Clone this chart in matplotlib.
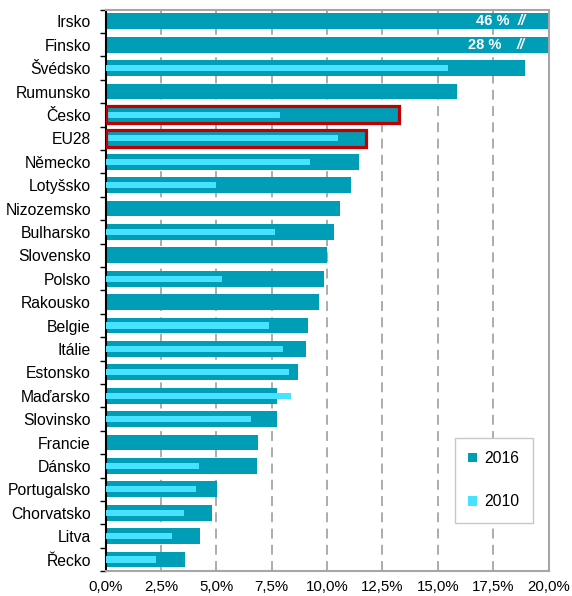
import numpy as np
import matplotlib
matplotlib.use("Agg")
import matplotlib.pyplot as plt
from matplotlib.patches import Patch

plt.rcParams['font.family'] = ['Liberation Sans', 'DejaVu Sans']

categories = ["Irsko", "Finsko", "Švédsko", "Rumunsko", "Česko", "EU28", "Německo",
              "Lotyšsko", "Nizozemsko", "Bulharsko", "Slovensko", "Polsko", "Rakousko",
              "Belgie", "Itálie", "Estonsko", "Maďarsko", "Slovinsko", "Francie",
              "Dánsko", "Portugalsko", "Chorvatsko", "Litva", "Řecko"]
values_2016 = [46.0, 28.0, 18.95, 15.85, 13.25, 11.75, 11.45, 11.1, 10.6, 10.3, 9.98,
               9.86, 9.65, 9.15, 9.05, 8.7, 7.76, 7.73, 6.9, 6.84, 5.05, 4.79, 4.28, 3.58]
values_2010 = [np.nan, np.nan, 15.45, np.nan, 7.9, 10.5, 9.25, 5.0, np.nan, 7.65, np.nan,
               5.27, np.nan, 7.4, 8.02, 8.27, 8.37, 6.58, np.nan, 4.2, 4.08, 3.56, 3.0, 2.28]
highlighted = ["Česko", "EU28"]
clipped_labels = {"Irsko": (17.5, 18.78), "Finsko": (17.1, 18.76)}
xticks = [0, 2.5, 5, 7.5, 10, 12.5, 15, 17.5, 20]
xtick_labels = ["0,0%", "2,5%", "5,0%", "7,5%", "10,0%", "12,5%", "15,0%", "17,5%", "20,0%"]
series_names = ["2016", "2010"]

dark = "#009DB6"
light = "#46E2FF"
red = "#C00000"
gray = "#A6A6A6"

W, H = 572, 596
fig = plt.figure(figsize=(W / 100, H / 100), dpi=100)
left, right, top, bottom = 105.5, 548.5, 9.6, 571.2
ax = fig.add_axes([left / W, 1 - bottom / H, (right - left) / W, (bottom - top) / H])

y = np.arange(len(categories))
ax.barh(y, values_2016, height=0.68, color=dark, zorder=2)
ax.barh(y, values_2010, height=0.27, color=light, zorder=3)

for name in highlighted:
    i = categories.index(name)
    ax.barh(y[i], values_2016[i], height=0.72, fill=False, edgecolor=red,
            linewidth=2.3, zorder=4)

for name, (xt, xs) in clipped_labels.items():
    i = categories.index(name)
    ax.text(xt, y[i], f"{values_2016[i]:.0f} %", color="white", fontweight="bold",
            fontsize=10.5, ha="center", va="center", zorder=5)
    ax.text(xs, y[i], "//", color="white", fontweight="bold", fontstyle="italic",
            fontsize=10.5, ha="center", va="center", zorder=5)

ax.set_xlim(0, 20)
ax.set_ylim(len(categories) - 0.5, -0.5)
ax.set_xticks(xticks)
ax.set_xticklabels(xtick_labels, fontsize=10.8)
ax.set_yticks(y)
ax.set_yticklabels(categories, fontsize=11.3)
ax.set_yticks(np.arange(-0.5, len(categories), 1), minor=True)
ax.tick_params(axis="y", which="major", length=0, pad=10.5)
ax.tick_params(axis="y", which="minor", length=4, width=1, color="black")
ax.tick_params(axis="x", length=0, pad=6)

ax.set_axisbelow(True)
ax.xaxis.grid(True, linestyle=(0, (5.5, 3.5)), color=gray, linewidth=1.3)

ax.spines["left"].set_color("black")
ax.spines["left"].set_linewidth(1.5)
for s in ["top", "right", "bottom"]:
    ax.spines[s].set_color(gray)
    ax.spines[s].set_linewidth(1.5)

handles = [Patch(facecolor=dark, edgecolor="none"), Patch(facecolor=light, edgecolor="none")]
leg = fig.legend(handles, series_names, loc="upper left",
                 bbox_to_anchor=(455 / W, 1 - 437.7 / H), fontsize=11.3,
                 frameon=True, fancybox=False, framealpha=1, edgecolor="#C8C8C8",
                 handlelength=0.57, handleheight=0.57, labelspacing=1.8,
                 borderpad=0.85, handletextpad=0.45, borderaxespad=0)
leg.get_frame().set_linewidth(1.0)

fig.savefig("out.png", dpi=100)
